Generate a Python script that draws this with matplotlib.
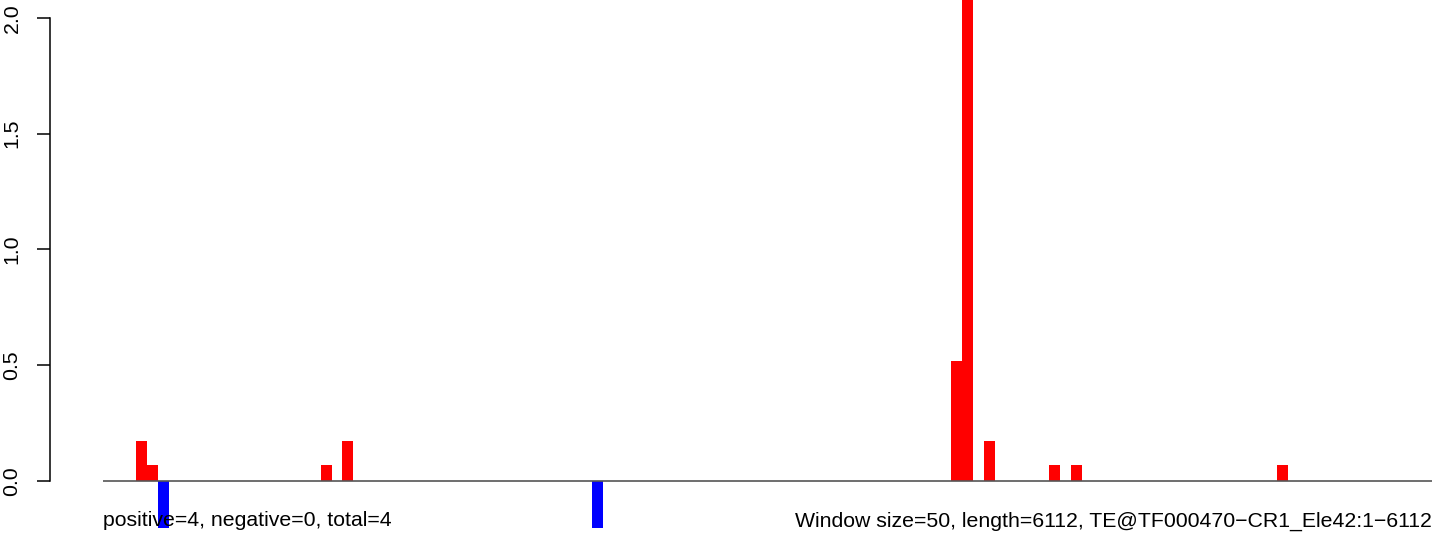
import matplotlib
matplotlib.use("Agg")
import matplotlib.pyplot as plt

plt.rcParams["font.family"] = ["Liberation Sans", "DejaVu Sans"]

# window size 50, sequence length 6112
window = 50
seq_len = 6112

# window starts (bp) and values
pos_start = [150, 200, 1000, 1100, 3900, 3950, 4050, 4350, 4450, 5400]
pos_val = [0.173, 0.069, 0.069, 0.173, 0.519, 2.5, 0.173, 0.069, 0.069, 0.069]
neg_start = [250, 2250]
neg_val = [-0.25, -0.25]

yticks = [0.0, 0.5, 1.0, 1.5, 2.0]
ytick_labels = ["0.0", "0.5", "1.0", "1.5", "2.0"]

left_text = "positive=4, negative=0, total=4"
right_text = "Window size=50, length=6112, TE@TF000470\u2212CR1_Ele42:1\u22126112"

fig = plt.figure(figsize=(14.44, 5.4), dpi=100)
ax = fig.add_axes([50 / 1444, 12 / 540, 1 - 50 / 1444, 1 - 12 / 540])

ax.bar(pos_start, pos_val, width=window, align="edge", color="#ff0000", linewidth=0)
ax.bar(neg_start, neg_val, width=window, align="edge", color="#0000ff", linewidth=0)
ax.hlines(0, 0, seq_len, color="#555555", lw=1.2, zorder=3)

ax.set_xlim(-245.1, 6166.3)
ax.set_ylim(-0.2045, 2.0778)

for s in ["top", "right", "bottom"]:
    ax.spines[s].set_visible(False)
ax.spines["left"].set_bounds(0, 2)
ax.spines["left"].set_linewidth(1.1)
ax.set_xticks([])
ax.set_yticks(yticks)
ax.set_yticklabels(ytick_labels)
ax.tick_params(axis="y", length=9.5, width=1.1, labelsize=15.3, pad=11, labelrotation=90)
for lab in ax.get_yticklabels():
    lab.set_va("center")

ax.text(0, -0.174, left_text, ha="left", va="center", fontsize=15.3, zorder=4)
ax.text(seq_len, -0.174, right_text, ha="right", va="center", fontsize=15.3, zorder=4)

fig.savefig("out.png", dpi=100)
